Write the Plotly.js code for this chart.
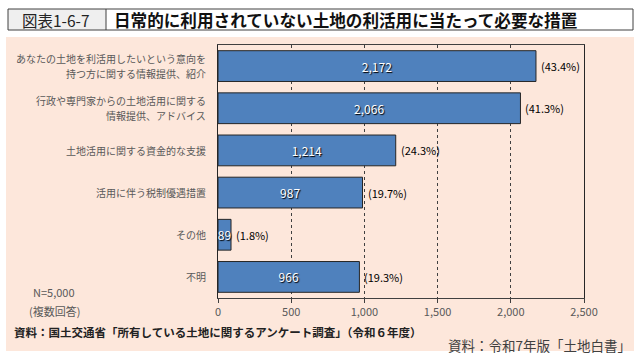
<!DOCTYPE html>
<html>
<head>
<meta charset="utf-8">
<script src="https://cdn.plot.ly/plotly-3.0.1.min.js"></script>
<style>html,body{margin:0;padding:0;background:#fff;}#chart{width:640px;height:356px;}</style>
</head>
<body>
<div id="chart"></div>
<script>
const categories = [
  "あなたの土地を利活用したいという意向を<br>持つ方に関する情報提供、紹介",
  "行政や専門家からの土地活用に関する<br>情報提供、アドバイス",
  "土地活用に関する資金的な支援",
  "活用に伴う税制優遇措置",
  "その他",
  "不明"
];
const counts = [2172, 2066, 1214, 987, 89, 966];
const countLabels = ["2,172", "2,066", "1,214", "987", "89", "966"];
const percentLabels = ["(43.4%)", "(41.3%)", "(24.3%)", "(19.7%)", "(1.8%)", "(19.3%)"];
const xTickValues = [0, 500, 1000, 1500, 2000, 2500];
const xTickLabels = ["0", "500", "1,000", "1,500", "2,000", "2,500"];

const W = 640, H = 356, ML = 218, MR = 56, MT = 45, MB = 58;
const PW = W - ML - MR, PH = H - MT - MB;
const px = x => (x - ML) / PW;
const py = y => (H - MB - y) / PH;
const JP = '"Noto Sans CJK JP", "Noto Sans", sans-serif';

const trace = {
  type: 'bar',
  orientation: 'h',
  y: categories,
  x: counts,
  text: countLabels,
  textposition: 'inside',
  insidetextanchor: 'middle',
  constraintext: 'none',
  textfont: {family: JP, size: 12, color: '#ffffff', shadow: '1px 1px 1px #000'},
  marker: {color: '#4f81bd', line: {color: '#262626', width: 1}},
  width: 0.73,
  hoverinfo: 'none',
  cliponaxis: false
};

const annotations = categories.map((c, i) => ({
  x: counts[i], y: c, xref: 'x', yref: 'y',
  text: percentLabels[i], showarrow: false,
  xanchor: 'left', xshift: 3,
  font: {family: JP, size: 11, color: '#000'}
}));

// category labels, one annotation per line so the lines get the reference spacing
categories.forEach(c => {
  const lines = c.split('<br>');
  const n = lines.length;
  lines.forEach((ln, j) => {
    annotations.push({
      x: 0, xref: 'paper', y: c, yref: 'y', text: ln, showarrow: false,
      xanchor: 'right', yanchor: 'middle', xshift: -10,
      yshift: ((n - 1) / 2 - j) * 15,
      font: {family: JP, size: 10, color: '#595959'}
    });
  });
});

annotations.push(
  {xref: 'paper', yref: 'paper', x: px(56), y: py(20), text: '図表1-6-7', showarrow: false,
   xanchor: 'center', yanchor: 'middle', font: {family: JP, size: 15.5, color: '#222'}},
  {xref: 'paper', yref: 'paper', x: px(112), y: py(20), text: '<b>日常的に利用されていない土地の利活用に当たって必要な措置</b>', showarrow: false,
   xanchor: 'left', yanchor: 'middle', font: {family: JP, size: 16.6, color: '#111'}},
  {xref: 'paper', yref: 'paper', x: px(54), y: py(292), text: 'N=5,000', showarrow: false,
   xanchor: 'center', yanchor: 'middle', font: {family: JP, size: 11, color: '#595959'}},
  {xref: 'paper', yref: 'paper', x: px(54), y: py(311), text: '(複数回答)', showarrow: false,
   xanchor: 'center', yanchor: 'middle', font: {family: JP, size: 11, color: '#595959'}},
  {xref: 'paper', yref: 'paper', x: px(12), y: py(332), text: '<b>資料：国土交通省「所有している土地に関するアンケート調査」（令和６年度）</b>', showarrow: false,
   xanchor: 'left', yanchor: 'middle', font: {family: JP, size: 11.5, color: '#222'}},
  {xref: 'paper', yref: 'paper', x: px(633), y: py(345), text: '資料：令和7年版「土地白書」', showarrow: false,
   xanchor: 'right', yanchor: 'middle', font: {family: JP, size: 13.5, color: '#404040'}}
);

const shapes = [
  {type: 'rect', xref: 'paper', yref: 'paper', x0: px(6), x1: px(634), y0: py(351), y1: py(37),
   fillcolor: '#fde7db', line: {width: 0}, layer: 'below'},
  {type: 'rect', xref: 'paper', yref: 'paper', x0: px(8), x1: px(106), y0: py(30), y1: py(9),
   fillcolor: '#efefef', line: {width: 0}, layer: 'below'},
  {type: 'rect', xref: 'paper', yref: 'paper', x0: px(8), x1: px(633), y0: py(30), y1: py(9),
   fillcolor: 'rgba(0,0,0,0)', line: {color: '#404040', width: 1}, layer: 'above'},
  {type: 'line', xref: 'paper', yref: 'paper', x0: px(106), x1: px(106), y0: py(30), y1: py(9),
   line: {color: '#404040', width: 1}, layer: 'above'}
];

const layout = {
  width: W, height: H,
  margin: {l: ML, r: MR, t: MT, b: MB, pad: 0},
  paper_bgcolor: '#ffffff',
  plot_bgcolor: 'rgba(0,0,0,0)',
  showlegend: false,
  font: {family: JP},
  xaxis: {
    range: [0, 2500], tickvals: xTickValues, ticktext: xTickLabels,
    showgrid: true, gridcolor: '#404040', griddash: 'dot', gridwidth: 1,
    zeroline: false, showline: true, linecolor: '#404040', linewidth: 1, mirror: true,
    ticks: 'outside', ticklen: 4, tickcolor: '#404040',
    tickfont: {family: JP, size: 11, color: '#595959'}, fixedrange: true
  },
  yaxis: {
    autorange: 'reversed', type: 'category',
    showgrid: false, zeroline: false, showline: true, linecolor: '#262626', linewidth: 1, mirror: true,
    ticks: '', showticklabels: false, fixedrange: true
  },
  bargap: 0.27,
  annotations: annotations,
  shapes: shapes
};

Plotly.newPlot('chart', [trace], layout, {displayModeBar: false, staticPlot: true});
</script>
</body>
</html>
